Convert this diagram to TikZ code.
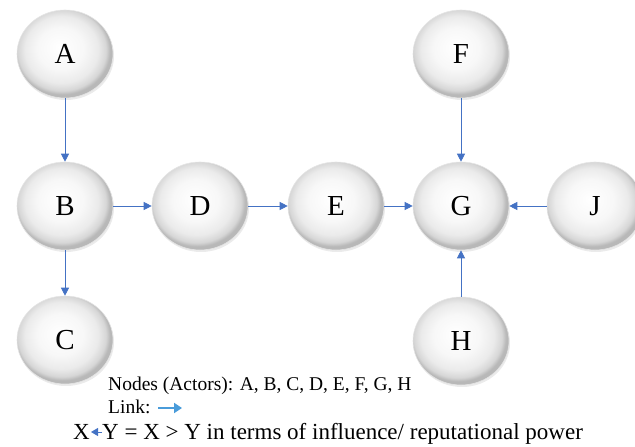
\documentclass[tikz,border=0pt]{standalone}
\usepackage{fontspec}
\setmainfont{Liberation Serif}
\usetikzlibrary{shapes.geometric,arrows.meta,shadows}
\definecolor{linkblue}{RGB}{68,114,196}
\definecolor{legblue}{RGB}{74,156,218}
\pgfdeclareradialshading{actorshade}{\pgfpoint{-3bp}{4bp}}{%
  color(0bp)=(white); color(12bp)=(black!3); color(19bp)=(black!8);
  color(23bp)=(black!16); color(25bp)=(black!28); color(50bp)=(black!28)}
\tikzset{
  actor/.style={ellipse, minimum width=96pt, minimum height=88pt, inner sep=0pt,
    shading=actorshade,
    draw=black!10, line width=0.6pt,
    drop shadow={shadow xshift=1pt, shadow yshift=-2pt, opacity=0.2, fill=black!40},
    font=\fontsize{29}{30}\selectfont},
  link/.style={draw=linkblue, line width=0.8pt, -{Triangle[length=8pt,width=8pt]}},
  legtext/.style={anchor=base west, inner sep=0pt, font=\fontsize{19.5}{21}\selectfont},
  legtextb/.style={anchor=base west, inner sep=0pt, font=\fontsize{23}{24}\selectfont}
}
\begin{document}
\begin{tikzpicture}[x=1pt,y=-1pt]
\useasboundingbox (0,0) rectangle (635,447);
\begin{scope}
\clip (0,0) rectangle (635,447);
\node[actor] (A) at (65,54) {A};
\node[actor] (B) at (65,206) {B};
\node[actor] (C) at (65,340) {C};
\node[actor] (D) at (200,206) {D};
\node[actor] (E) at (336,206) {E};
\node[actor] (F) at (461,54) {F};
\node[actor] (G) at (461,206) {G};
\node[actor] (J) at (595,206) {J};
\node[actor] (H) at (461,341) {H};
\end{scope}
\draw[link] (A) -- (B);
\draw[link] (B) -- (C);
\draw[link] (B) -- (D);
\draw[link] (D) -- (E);
\draw[link] (E) -- (G);
\draw[link] (F) -- (G);
\draw[link] (J) -- (G);
\draw[link] (H) -- (G);
\node[legtext] (l1) at (108,390) {Nodes (Actors): A, B, C, D, E, F, G, H};
\node[legtext] (l2) at (108,413) {Link:};
\coordinate (ls) at (158,408);
\coordinate (le) at (182,408);
\draw[draw=legblue, line width=2.5pt, -{Triangle[length=8pt,width=10pt]}] (ls) -- (le);
\node[legtextb] (x) at (73,439) {X};
\node[legtextb] (rest) at (102,439) {Y = X > Y in terms of influence/ reputational power};
\draw[draw=linkblue, line width=1pt, -{Triangle[length=7pt,width=8pt]}] ([yshift=7pt]rest.base west) -- ([yshift=7pt, xshift=1pt]x.base east);
\end{tikzpicture}
\end{document}
